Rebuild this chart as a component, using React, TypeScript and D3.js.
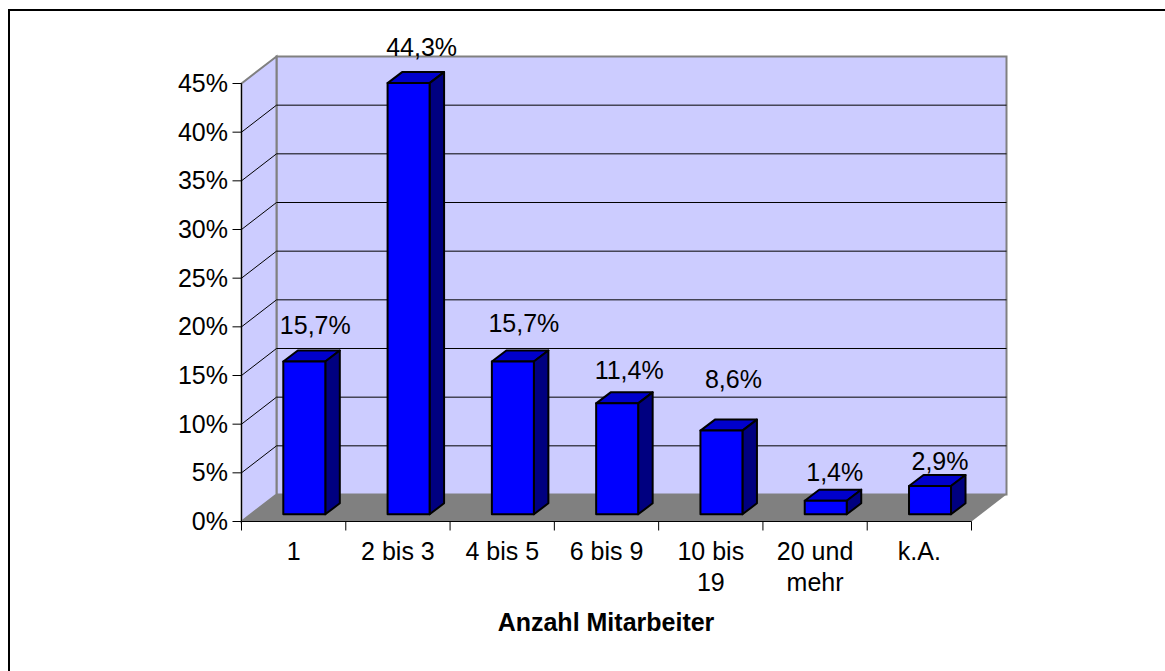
import React from "react";
import * as d3 from "d3";

const categories: string[][] = [["1"], ["2 bis 3"], ["4 bis 5"], ["6 bis 9"], ["10 bis", "19"], ["20 und", "mehr"], ["k.A."]];
const values = [15.7, 44.3, 15.7, 11.4, 8.6, 1.4, 2.9];
const valueLabels = ["15,7%", "44,3%", "15,7%", "11,4%", "8,6%", "1,4%", "2,9%"];
const yTicks = [0, 5, 10, 15, 20, 25, 30, 35, 40, 45];
const axisTitle = "Anzahl Mitarbeiter";

const FONT = "'Liberation Sans', Arial, sans-serif";
const FS = 25;
const x0 = 241.5, x1 = 971.5, y0 = 521.5, y45 = 83.5;
const dx = 35, dy = -27;
const barDx = 14.5, barDy = -11;
const labelDx = [11, 13, 11, 12, 12, 9, 10];
const labelDy = [27, 27, 29, 24, 43, 20, 16];

const band = d3.scaleBand<number>().domain(d3.range(categories.length)).range([x0, x1]);
const y = d3.scaleLinear().domain([0, 45]).range([y0, y45]);

export default function App() {
  const bw = 42;
  return (
    <svg width={1165} height={671} style={{ position: "absolute", left: 0, top: 0, display: "block" }} fontFamily={FONT}>
      <rect x={0} y={0} width={1165} height={671} fill="#fff" />
      <path d="M9,671L9,10L1165,10" fill="none" stroke="#000" strokeWidth={2} />
      <rect x={x0 + dx} y={y45 + dy} width={x1 - x0} height={y0 - y45} fill="#ccccff" stroke="#808080" strokeWidth={2} />
      <path d={`M${x0},${y0}L${x0},${y45}L${x0 + dx},${y45 + dy}L${x0 + dx},${y0 + dy}Z`} fill="#ccccff" stroke="#808080" strokeWidth={2} />
      <path d={`M${x0},${y0}L${x0 + dx},${y0 + dy}L${x1 + dx},${y0 + dy}L${x1},${y0}Z`} fill="#808080" />
      {yTicks.slice(1, -1).map((t) => (
        <path key={t} d={`M${x0},${y(t)}L${x0 + dx},${y(t) + dy}L${x1 + dx},${y(t) + dy}`} fill="none" stroke="#000" strokeWidth={1} />
      ))}
      <line x1={x0} x2={x0} y1={y45} y2={y0} stroke="#000" strokeWidth={1} />
      <line x1={x0} x2={x1} y1={y0} y2={y0} stroke="#000" strokeWidth={1} />
      {yTicks.map((t) => (
        <g key={t}>
          <line x1={x0 - 9} x2={x0} y1={y(t)} y2={y(t)} stroke="#000" strokeWidth={1} />
          <text x={x0 - 13.5} y={y(t) + 8.5} textAnchor="end" fontSize={FS}>{t}%</text>
        </g>
      ))}
      {d3.range(categories.length + 1).map((i) => {
        const px = x0 + band.step() * i;
        return <line key={i} x1={px} x2={px} y1={y0} y2={y0 + 9} stroke="#000" strokeWidth={1} />;
      })}
      {values.map((v, i) => {
        const bx = band(i)! + 41.8;
        const base = y0 - 7.2;
        const h = y0 - y(v);
        const top = base - h;
        const r = bx + bw;
        return (
          <g key={i} stroke="#000" strokeWidth={2} strokeLinejoin="round">
            <path d={`M${bx},${top}L${bx + barDx},${top + barDy}L${r + barDx},${top + barDy}L${r},${top}Z`} fill="#0000cc" />
            <path d={`M${r},${top}L${r + barDx},${top + barDy}L${r + barDx},${base + barDy}L${r},${base}Z`} fill="#000080" />
            <rect x={bx} y={top} width={bw} height={h} fill="#0000ff" />
          </g>
        );
      })}
      {values.map((v, i) => {
        const cx = band(i)! + 41.8 + bw / 2 + labelDx[i];
        const top = y0 - 7.2 - (y0 - y(v));
        return <text key={i} x={cx} y={top - labelDy[i]} textAnchor="middle" fontSize={FS}>{valueLabels[i]}</text>;
      })}
      {categories.map((lines, i) => (
        <text key={i} textAnchor="middle" fontSize={FS}>
          {lines.map((l, j) => (
            <tspan key={j} x={band(i)! + band.step() / 2} y={560 + j * 31}>{l}</tspan>
          ))}
        </text>
      ))}
      <text x={606} y={631} textAnchor="middle" fontSize={FS} fontWeight="bold">{axisTitle}</text>
    </svg>
  );
}
